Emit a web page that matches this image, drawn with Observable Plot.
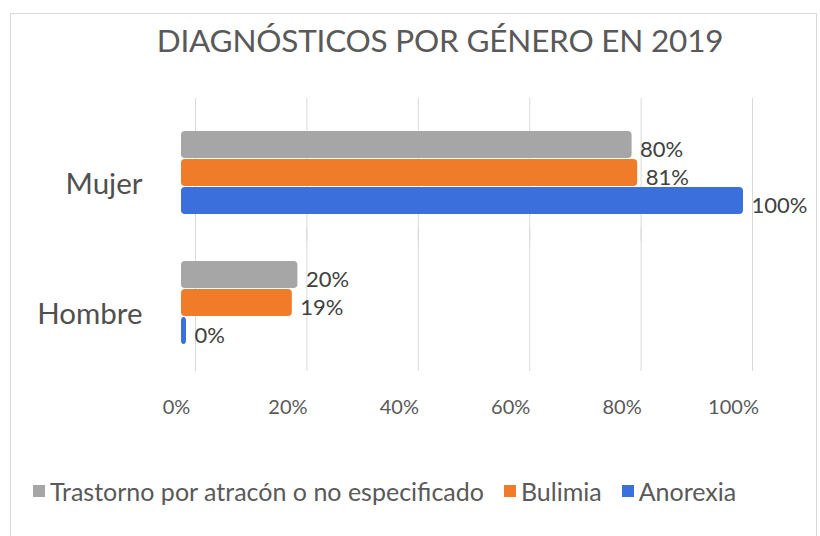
<!DOCTYPE html>
<html>
<head>
<meta charset="utf-8">
<script src="https://cdn.jsdelivr.net/npm/d3@7"></script>
<script src="https://cdn.jsdelivr.net/npm/@observablehq/plot@0.6"></script>
<style>
  body { margin: 0; background: #fff; }
  #wrap { position: relative; width: 820px; height: 536px; background: #fff; overflow: hidden; font-family: Lato, "Open Sans", sans-serif; }
  #border { position: absolute; left: 10px; top: 13px; width: 805px; height: 540px; border: 1px solid #d9d9d9; }
  #title { position: absolute; top: 21px; left: 0; width: 880px; text-align: center; font-size: 31.5px; letter-spacing: -0.2px; color: #595959; font-weight: 400; white-space: nowrap; }
  #chart { position: absolute; top: 85px; left: 0; }
  #legend { position: absolute; top: 476px; left: 33px; display: flex; align-items: center; font-size: 25px; color: #595959; white-space: nowrap; }
  .item { display: flex; align-items: center; margin-right: 20px; }
  .sw { width: 12px; height: 12px; margin-right: 5px; }
</style>
</head>
<body>
<div id="wrap">
  <div id="border"></div>
  <div id="title">DIAGNÓSTICOS POR GÉNERO EN 2019</div>
  <div id="chart"></div>
  <div id="legend"></div>
</div>
<script>
const genders = ["Mujer", "Hombre"];
const series = ["Trastorno por atracón o no especificado", "Bulimia", "Anorexia"];
const colors = ["#a6a6a6", "#f07c2a", "#3a6fdc"];
const mujer = [80, 81, 100];
const hombre = [20, 19, 0];
const xTicks = [0, 20, 40, 60, 80, 100];

const rows = genders.flatMap((g, i) =>
  series.map((s, j) => ({gender: g, series: s, value: (i === 0 ? mujer : hombre)[j]}))
);

const chart = Plot.plot({
  width: 820,
  height: 345,
  marginLeft: 183,
  marginRight: 80,
  marginTop: 43,
  marginBottom: 83,
  style: {fontFamily: "Lato, 'Open Sans', sans-serif", color: "#595959", background: "transparent"},
  x: {domain: [0, 100], axis: null},
  y: {domain: series, axis: null, padding: 0.02},
  fy: {domain: genders, padding: 0.328, axis: null},
  color: {domain: series, range: colors},
  facet: {data: rows, y: "gender"},
  marks: [
    Plot.ruleX(xTicks, {x: d => d, stroke: "#d9d9d9", insetTop: -31, insetBottom: -25, dx: 12, facet: false}),
    Plot.barX(rows, {x: "value", y: "series", fill: "series", rx: 4, insetLeft: -2, insetRight: -3}),
    Plot.text(rows, {x: "value", y: "series", text: d => d.value + "%", textAnchor: "start", dx: 11, dy: 5, fontSize: 22, fill: "#404040"}),
    Plot.axisX({ticks: xTicks, tickFormat: d => d + "%", tickSize: 0, tickPadding: 53, fontSize: 20, dx: -7, anchor: "bottom", label: null}),
    Plot.axisFy({anchor: "left", tickSize: 0, tickPadding: 41, fontSize: 29.5, dy: 12, label: null, fill: "#505050"})
  ]
});
document.getElementById("chart").appendChild(chart);

const legend = document.getElementById("legend");
series.forEach((s, i) => {
  const it = document.createElement("div");
  it.className = "item";
  const sw = document.createElement("div");
  sw.className = "sw";
  sw.style.background = colors[i];
  const t = document.createElement("span");
  t.textContent = s;
  it.appendChild(sw);
  it.appendChild(t);
  legend.appendChild(it);
});
</script>
</body>
</html>
